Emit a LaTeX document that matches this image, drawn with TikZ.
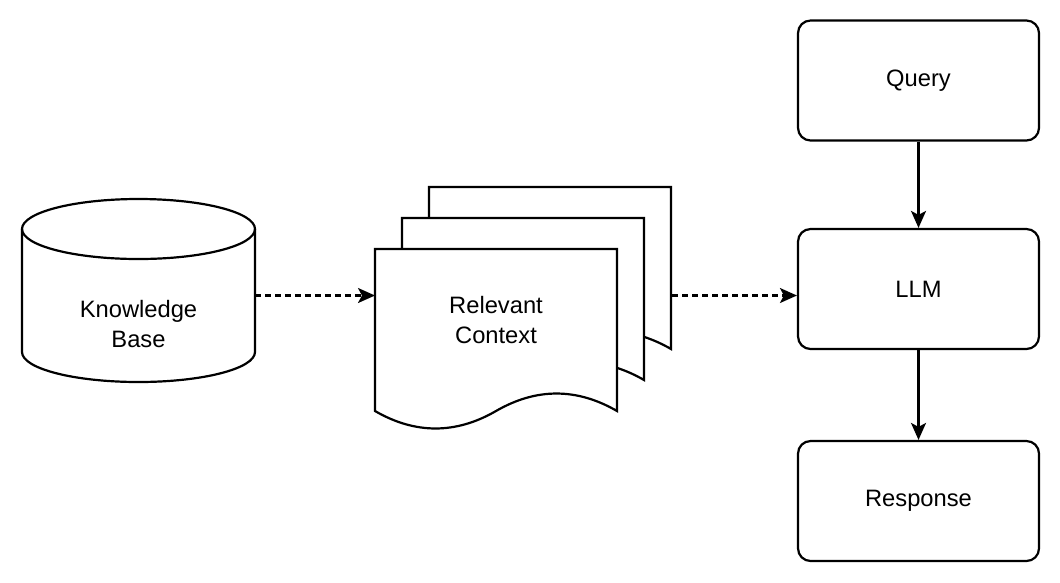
\documentclass[tikz,border=0pt]{standalone}
\usepackage{fontspec}
\setmainfont{Liberation Sans}
\usetikzlibrary{arrows.meta}
\newcommand\docpage[2]{%
  \filldraw[fill=white, shift={(#1,#2)}] (375,249) -- (617,249) -- (617,411)
    .. controls (576.7,387.7) and (536.3,387.7) .. (496,411)
    .. controls (455.7,434.3) and (415.3,434.3) .. (375,411) -- cycle;}
\begin{document}
\begin{tikzpicture}[x=0.02cm, y=-0.02cm, line width=1.25pt,
    txt/.style={align=center, font=\fontsize{13.5}{17.5}\selectfont},
    box/.style={txt, draw, rounded corners=0.25cm, minimum width=4.82cm, minimum height=2.4cm},
    flow/.style={-{Stealth[length=0.34cm, width=0.3cm, inset=0.08cm]}},
    dflow/.style={flow, dash pattern=on 0.12cm off 0.08cm}]
  \useasboundingbox (0,0) rectangle (1060,582);
  \draw (138.5,229) ellipse[x radius=116.5, y radius=30];
  \draw (22,229) -- (22,352) arc[start angle=180, end angle=0, x radius=116.5, y radius=30] -- (255,229);
  \node[txt] (kb) at (138.5,324) {Knowledge\\Base};
  \docpage{54}{-62}
  \docpage{27}{-31}
  \docpage{0}{0}
  \node[txt] (ctx) at (496,320) {Relevant\\Context};
  \node[box] (query) at (918.5,80.5) {Query};
  \node[box] (llm) at (918.5,289) {LLM};
  \node[box] (response) at (918.5,501) {Response};
  \coordinate (kbout) at (255,295.5);
  \coordinate (ctxin) at (375,295.5);
  \coordinate (ctxout) at (672,295.5);
  \draw[dflow] (kbout) -- (ctxin);
  \draw[dflow] (ctxout) -- (ctxout -| llm.west);
  \draw[flow] (query) -- (llm);
  \draw[flow] (llm) -- (response);
\end{tikzpicture}
\end{document}
